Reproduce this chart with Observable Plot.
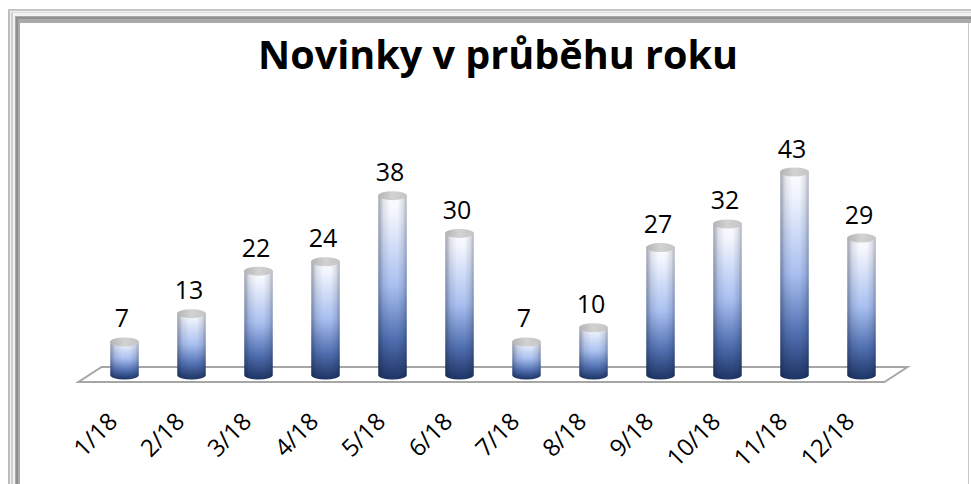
<!DOCTYPE html>
<html><head><meta charset="utf-8">
<script src="https://cdn.jsdelivr.net/npm/d3@7"></script>
<script src="https://cdn.jsdelivr.net/npm/@observablehq/plot@0.6"></script>
<style>
html,body{margin:0;padding:0;background:#fff;}
#wrap{position:relative;width:971px;height:484px;overflow:hidden;background:#fff;font-family:"Open Sans",sans-serif;}
.f{position:absolute;}
#title{position:absolute;white-space:nowrap;font-weight:700;color:#000;line-height:1;font-family:"Open Sans",sans-serif;}
#chart{position:absolute;left:0;top:100px;}
</style></head><body>
<div id="wrap">
  <div class="f" style="left:8px;top:9px;width:963px;height:480px;border-top:2px solid #c4c4c4;border-left:2px solid #bcbcbc;background:#f2f2f2;box-sizing:border-box"></div>
  <div class="f" style="left:11px;top:12px;width:960px;height:480px;border-top:1px solid #dcdcdc;border-left:2px solid #cfcfcf;box-sizing:border-box"></div>
  <div class="f" style="left:15px;top:16px;width:956px;height:480px;border-top:7px solid #a9a9a9;border-left:5px solid #a9a9a9;background:#fff;box-sizing:border-box"></div>
  <div class="f" style="left:16px;top:17px;width:955px;height:2px;background:#8f8f8f"></div>
  <div class="f" style="left:16px;top:17px;width:2px;height:470px;background:#8f8f8f"></div>
  <div class="f" style="left:968px;top:23px;width:1px;height:470px;background:#c8c8c8"></div>
  <div id="title"></div>
  <div id="chart"></div>
</div>
<script>
const titleText = "Novinky v průběhu roku";
const months = ["1/18","2/18","3/18","4/18","5/18","6/18","7/18","8/18","9/18","10/18","11/18","12/18"];
const counts = [7,13,22,24,38,30,7,10,27,32,43,29];
const data = months.map((m, i) => ({month: m, value: counts[i]}));

// Title: fit to the reference width
const ctx = document.createElement("canvas").getContext("2d");
ctx.font = '700 100px "Open Sans"';
const fs = 100 * 480 / ctx.measureText(titleText).width;
const t = document.getElementById("title");
t.textContent = titleText;
t.style.fontSize = fs + "px";
t.style.lineHeight = "1.362";
t.style.left = "498px";
t.style.transform = "translateX(-50%)";
t.style.top = (70 - 1.069 * fs) + "px";

function floor(index, scales) {
  const x = scales.x, y = scales.y;
  const bw = x.bandwidth ? x.bandwidth() : 67.64;
  const c0 = x(months[0]) + bw / 2, c1 = x(months[months.length - 1]) + bw / 2;
  const y0 = y(0);
  const pts = [[c0 - 46, y0 + 7], [c1 + 23, y0 + 7], [c1 + 46, y0 - 8], [c0 - 23, y0 - 8]];
  const g = d3.create("svg:g");
  g.append("path").attr("d", "M" + pts.join("L") + "Z")
    .attr("fill", "none").attr("stroke", "#a6a6a6").attr("stroke-width", 2);
  return g.node();
}

const inset = 19.3, r = 14.5, ry = 4.5;
const chart = Plot.plot({
  width: 971,
  height: 384,
  margin: 0,
  style: {background: "transparent", overflow: "visible"},
  x: {type: "band", domain: months, range: [87.2, 898.8], padding: 0, axis: null},
  y: {domain: [0, 45], range: [275, 62.6], axis: null},
  marks: [
    floor,
    Plot.barY(data, {x: "month", y: "value", fill: "url(#bodyGrad)", insetLeft: inset, insetRight: inset, insetTop: -ry, insetBottom: -ry, rx: r, ry: ry}),
    Plot.barY(data, {x: "month", y: "value", fill: "url(#shadeGrad)", insetLeft: inset, insetRight: inset, insetTop: -ry, insetBottom: -ry, rx: r, ry: ry}),
    Plot.barY(data, {x: "month", y1: "value", y2: "value", fill: "url(#capGrad)", insetLeft: inset, insetRight: inset, insetTop: -ry, insetBottom: -ry, rx: r, ry: ry}),
    Plot.text(data, {x: "month", y: "value", text: d => String(d.value), dy: -15, dx: -3, lineAnchor: "bottom", fontSize: 25, fontFamily: "Open Sans", fill: "#000"}),
    Plot.text(data, {x: "month", y: () => 0, text: "month", dy: 47.5, dx: -6, rotate: -45, textAnchor: "end", lineAnchor: "bottom", fontSize: 24, fontFamily: "Open Sans", fill: "#000"})
  ]
});
d3.select(chart).insert("defs", ":first-child").html(`
  <linearGradient id="bodyGrad" x1="0" y1="0" x2="0" y2="1">
    <stop offset="0" stop-color="#ffffff"/>
    <stop offset="0.12" stop-color="#f2f5fd"/>
    <stop offset="0.5" stop-color="#a9c0f0"/>
    <stop offset="0.78" stop-color="#5271b2"/>
    <stop offset="1" stop-color="#1d3464"/>
  </linearGradient>
  <linearGradient id="shadeGrad" x1="0" y1="0" x2="1" y2="0">
    <stop offset="0" stop-color="#0a1430" stop-opacity="0.38"/>
    <stop offset="0.18" stop-color="#0a1430" stop-opacity="0.1"/>
    <stop offset="0.42" stop-color="#0a1430" stop-opacity="0"/>
    <stop offset="0.68" stop-color="#0a1430" stop-opacity="0"/>
    <stop offset="0.88" stop-color="#0a1430" stop-opacity="0.12"/>
    <stop offset="1" stop-color="#0a1430" stop-opacity="0.32"/>
  </linearGradient>
  <linearGradient id="capGrad" x1="0" y1="0" x2="1" y2="0">
    <stop offset="0" stop-color="#b4b4b4"/>
    <stop offset="0.5" stop-color="#d2d2d2"/>
    <stop offset="1" stop-color="#c4c4c4"/>
  </linearGradient>`);
document.getElementById("chart").appendChild(chart);
</script>
</body></html>
